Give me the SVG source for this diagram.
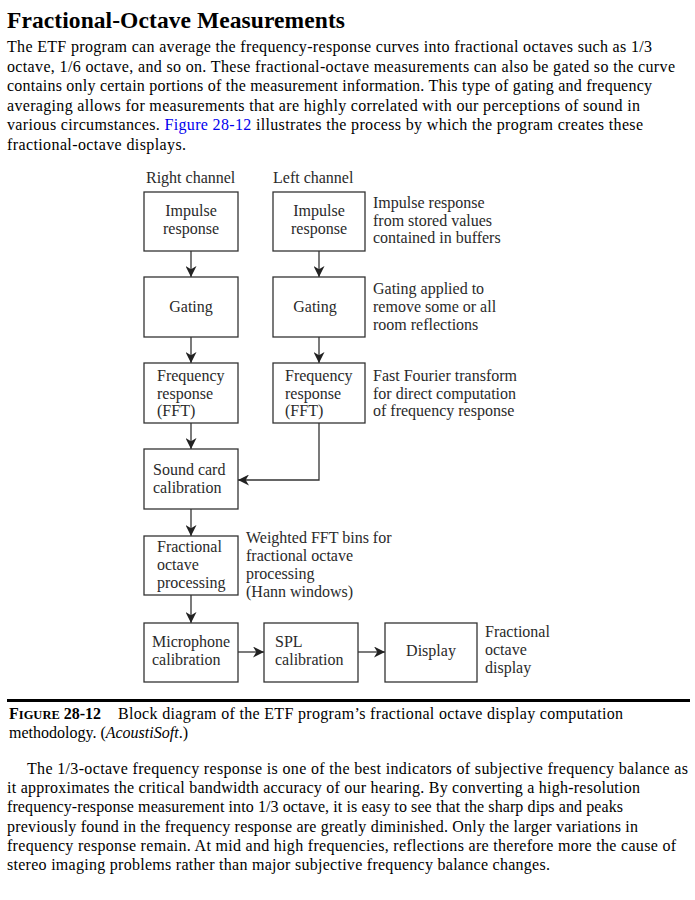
<svg xmlns="http://www.w3.org/2000/svg" width="695" height="900" viewBox="0 0 695 900">
<defs>
<style>
.title{font-family:"Liberation Serif",serif;font-weight:bold;font-size:23.5px;fill:#000}
.body{font-family:"Liberation Serif",serif;font-size:16px;fill:#000}
.cap{font-family:"Liberation Serif",serif;font-size:16px;fill:#000}
.d{font-family:"Liberation Serif",serif;font-size:16px;fill:#2a2a2a}
.dc{font-family:"Liberation Serif",serif;font-size:16px;fill:#2a2a2a;text-anchor:middle}
.box{fill:#fff;stroke:#333;stroke-width:1.3}
.ln{fill:none;stroke:#333;stroke-width:1.3}
</style>
<marker id="ah" viewBox="0 0 10 10" refX="10" refY="5" markerWidth="12" markerHeight="11" markerUnits="userSpaceOnUse" orient="auto">
<path d="M0,0 L10,5 L0,10 L3,5 z" fill="#222"/>
</marker>
</defs>
<rect width="695" height="900" fill="#fff"/>
<g id="header">
<text class="title" x="7" y="28" textLength="338">Fractional-Octave Measurements</text>
<text class="body" x="7" y="52" textLength="645">The ETF program can average the frequency-response curves into fractional octaves such as 1/3</text>
<text class="body" x="7" y="72" textLength="668">octave, 1/6 octave, and so on. These fractional-octave measurements can also be gated so the curve</text>
<text class="body" x="7" y="91" textLength="645">contains only certain portions of the measurement information. This type of gating and frequency</text>
<text class="body" x="7" y="111" textLength="633">averaging allows for measurements that are highly correlated with our perceptions of sound in</text>
<text class="body" x="7" y="130" textLength="636">various circumstances. <tspan fill="#0000ee">Figure 28-12</tspan> illustrates the process by which the program creates these</text>
<text class="body" x="7" y="150" textLength="179">fractional-octave displays.</text>
</g>
<g id="labels">
<text class="d" x="146" y="183">Right channel</text>
<text class="d" x="273" y="183">Left channel</text>
</g>
<g id="connectors">
<line class="ln" x1="191" y1="251" x2="191" y2="277" marker-end="url(#ah)"/>
<line class="ln" x1="319" y1="251" x2="319" y2="277" marker-end="url(#ah)"/>
<line class="ln" x1="191" y1="337" x2="191" y2="363" marker-end="url(#ah)"/>
<line class="ln" x1="319" y1="337" x2="319" y2="363" marker-end="url(#ah)"/>
<line class="ln" x1="191" y1="423" x2="191" y2="449" marker-end="url(#ah)"/>
<polyline class="ln" points="319,423 319,480 238,480" marker-end="url(#ah)"/>
<line class="ln" x1="191" y1="509" x2="191" y2="536" marker-end="url(#ah)"/>
<line class="ln" x1="191" y1="595" x2="191" y2="623" marker-end="url(#ah)"/>
<line class="ln" x1="238" y1="652" x2="264" y2="652" marker-end="url(#ah)"/>
<line class="ln" x1="358" y1="652" x2="385" y2="652" marker-end="url(#ah)"/>
</g>
<g id="r-impulse">
<rect class="box" x="144" y="192" width="94" height="59"/>
<text class="dc" x="191" y="216">Impulse</text>
<text class="dc" x="191" y="234">response</text>
</g>
<g id="l-impulse">
<rect class="box" x="273" y="192" width="92" height="59"/>
<text class="dc" x="319" y="216">Impulse</text>
<text class="dc" x="319" y="234">response</text>
</g>
<g id="note-impulse">
<text class="d" x="373" y="208">Impulse response</text>
<text class="d" x="373" y="226">from stored values</text>
<text class="d" x="373" y="243">contained in buffers</text>
</g>
<g id="r-gating">
<rect class="box" x="144" y="277" width="94" height="60"/>
<text class="dc" x="191" y="312">Gating</text>
</g>
<g id="l-gating">
<rect class="box" x="273" y="277" width="92" height="60"/>
<text class="dc" x="315" y="312">Gating</text>
</g>
<g id="note-gating">
<text class="d" x="373" y="294">Gating applied to</text>
<text class="d" x="373" y="312">remove some or all</text>
<text class="d" x="373" y="330">room reflections</text>
</g>
<g id="r-fft">
<rect class="box" x="144" y="363" width="94" height="60"/>
<text class="d" x="157" y="381">Frequency</text>
<text class="d" x="157" y="399">response</text>
<text class="d" x="157" y="416">(FFT)</text>
</g>
<g id="l-fft">
<rect class="box" x="273" y="363" width="92" height="60"/>
<text class="d" x="285" y="381">Frequency</text>
<text class="d" x="285" y="399">response</text>
<text class="d" x="285" y="416">(FFT)</text>
</g>
<g id="note-fft">
<text class="d" x="373" y="381">Fast Fourier transform</text>
<text class="d" x="373" y="399">for direct computation</text>
<text class="d" x="373" y="416">of frequency response</text>
</g>
<g id="soundcard">
<rect class="box" x="144" y="449" width="94" height="60"/>
<text class="d" x="153" y="475">Sound card</text>
<text class="d" x="153" y="493">calibration</text>
</g>
<g id="fractional">
<rect class="box" x="144" y="536" width="94" height="59"/>
<text class="d" x="157" y="552">Fractional</text>
<text class="d" x="157" y="570">octave</text>
<text class="d" x="157" y="588">processing</text>
</g>
<g id="note-fractional">
<text class="d" x="246" y="543">Weighted FFT bins for</text>
<text class="d" x="246" y="561">fractional octave</text>
<text class="d" x="246" y="579">processing</text>
<text class="d" x="246" y="597">(Hann windows)</text>
</g>
<g id="microphone">
<rect class="box" x="144" y="623" width="94" height="59"/>
<text class="d" x="152" y="647">Microphone</text>
<text class="d" x="152" y="665">calibration</text>
</g>
<g id="spl">
<rect class="box" x="264" y="623" width="94" height="59"/>
<text class="d" x="275" y="647">SPL</text>
<text class="d" x="275" y="665">calibration</text>
</g>
<g id="display">
<rect class="box" x="385" y="623" width="92" height="59"/>
<text class="dc" x="431" y="656">Display</text>
</g>
<g id="note-display">
<text class="d" x="485" y="637">Fractional</text>
<text class="d" x="485" y="655">octave</text>
<text class="d" x="485" y="673">display</text>
</g>
<g id="caption">
<rect x="7" y="699" width="683" height="3" fill="#000"/>
<text class="cap" x="9" y="719" font-weight="bold">F<tspan font-size="12.5px">IGURE</tspan> 28-12</text>
<text class="cap" x="118" y="719" textLength="505">Block diagram of the ETF program’s fractional octave display computation</text>
<text class="cap" x="9" y="738">methodology. (<tspan font-style="italic">AcoustiSoft</tspan>.)</text>
</g>
<g id="paragraph">
<text class="body" x="27" y="774" textLength="661">The 1/3-octave frequency response is one of the best indicators of subjective frequency balance as</text>
<text class="body" x="7" y="793" textLength="633">it approximates the critical bandwidth accuracy of our hearing. By converting a high-resolution</text>
<text class="body" x="7" y="812" textLength="616">frequency-response measurement into 1/3 octave, it is easy to see that the sharp dips and peaks</text>
<text class="body" x="7" y="832" textLength="631">previously found in the frequency response are greatly diminished. Only the larger variations in</text>
<text class="body" x="7" y="851" textLength="669">frequency response remain. At mid and high frequencies, reflections are therefore more the cause of</text>
<text class="body" x="7" y="870" textLength="543">stereo imaging problems rather than major subjective frequency balance changes.</text>
</g>
</svg>
